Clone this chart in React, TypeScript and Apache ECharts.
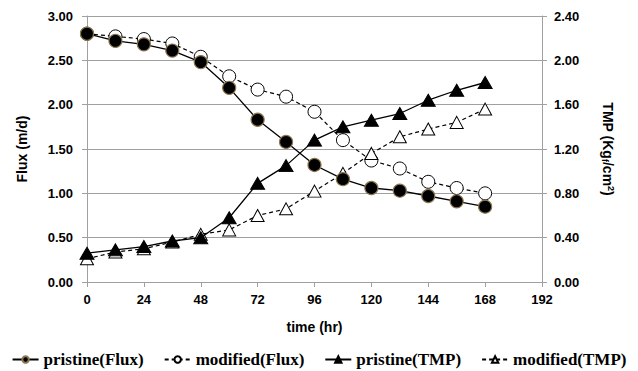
import React, { useEffect, useRef } from 'react';
import * as echarts from 'echarts';

const hours = [0, 12, 24, 36, 48, 60, 72, 84, 96, 108, 120, 132, 144, 156, 168];
const pristineFlux = [2.80, 2.72, 2.68, 2.61, 2.48, 2.19, 1.83, 1.58, 1.32, 1.16, 1.06, 1.03, 0.97, 0.91, 0.85];
const modifiedFlux = [2.80, 2.77, 2.74, 2.69, 2.54, 2.32, 2.17, 2.09, 1.92, 1.60, 1.37, 1.28, 1.13, 1.06, 1.00];
const pristineTMP = [0.26, 0.29, 0.32, 0.37, 0.40, 0.58, 0.89, 1.05, 1.28, 1.40, 1.46, 1.52, 1.64, 1.73, 1.80];
const modifiedTMP = [0.21, 0.27, 0.30, 0.36, 0.43, 0.47, 0.60, 0.66, 0.82, 0.98, 1.16, 1.31, 1.38, 1.44, 1.56];
const seriesNames = ['pristine(Flux)', 'modified(Flux)', 'pristine(TMP)', 'modified(TMP)'];

const pairs = (ys: number[]) => hours.map((h, i) => [h, ys[i]]);

const axisFont = { fontFamily: 'Liberation Sans, Arial, sans-serif', fontWeight: 'bold' as const, color: '#000' };
const gray = '#a0a0a0';

export default function App() {
  const ref = useRef<HTMLDivElement>(null);
  useEffect(() => {
    document.body.style.margin = '0';
    const chart = echarts.init(ref.current!, null, { renderer: 'svg' });
    chart.setOption({
      animation: false,
      backgroundColor: '#fff',
      grid: { left: 87, right: 96, top: 16, bottom: 89 },
      legend: {
        data: seriesNames,
        bottom: 3,
        left: 'center',
        width: 636,
        padding: 0,
        itemWidth: 26,
        itemHeight: 8,
        itemGap: 20,
        textStyle: { fontFamily: 'Liberation Serif, Times New Roman, serif', fontWeight: 'bold', fontSize: 17, color: '#000' },
      },
      xAxis: {
        type: 'value',
        min: 0,
        max: 192,
        interval: 24,
        name: 'time (hr)',
        nameLocation: 'middle',
        nameGap: 38,
        nameTextStyle: { ...axisFont, fontSize: 14 },
        axisLine: { lineStyle: { color: gray } },
        axisTick: { length: 5, lineStyle: { color: gray } },
        splitLine: { show: false },
        axisLabel: { ...axisFont, fontSize: 13, margin: 11 },
      },
      yAxis: [
        {
          type: 'value',
          min: 0,
          max: 3,
          interval: 0.5,
          name: 'Flux (m/d)',
          nameLocation: 'middle',
          nameRotate: 90,
          nameGap: 58,
          nameTextStyle: { ...axisFont, fontSize: 14 },
          axisLine: { show: true, lineStyle: { color: gray } },
          axisTick: { show: true, length: 5, lineStyle: { color: gray } },
          splitLine: { show: true, lineStyle: { color: gray, width: 1 } },
          axisLabel: { ...axisFont, fontSize: 13, margin: 14, formatter: (v: number) => v.toFixed(2) },
        },
        {
          type: 'value',
          min: 0,
          max: 2.4,
          interval: 0.4,
          position: 'right',
          name: 'TMP (Kg{sub|f}/cm{sup|2})',
          nameLocation: 'middle',
          nameRotate: -90,
          nameGap: 58,
          nameTextStyle: {
            ...axisFont,
            fontSize: 14,
            rich: {
              sub: { ...axisFont, fontSize: 9, verticalAlign: 'bottom', padding: [6, 0, 0, 0] },
              sup: { ...axisFont, fontSize: 9, verticalAlign: 'top', padding: [0, 0, 6, 0] },
            },
          },
          axisLine: { show: true, lineStyle: { color: gray } },
          axisTick: { show: true, length: 5, lineStyle: { color: gray } },
          splitLine: { show: false },
          axisLabel: { ...axisFont, fontSize: 13, margin: 12, formatter: (v: number) => v.toFixed(2) },
        },
      ],
      series: [
        {
          name: 'modified(Flux)',
          type: 'line',
          yAxisIndex: 0,
          data: pairs(modifiedFlux),
          symbol: 'circle',
          symbolSize: 13,
          lineStyle: { color: '#000', width: 1.2, type: [4, 3] },
          itemStyle: { color: '#fff', borderColor: '#000', borderWidth: 1 },
          z: 2,
        },
        {
          name: 'modified(TMP)',
          type: 'line',
          yAxisIndex: 1,
          data: pairs(modifiedTMP),
          symbol: 'triangle',
          symbolSize: [13, 12],
          lineStyle: { color: '#000', width: 1.2, type: [4, 3] },
          itemStyle: { color: '#fff', borderColor: '#000', borderWidth: 1 },
          z: 3,
        },
        {
          name: 'pristine(TMP)',
          type: 'line',
          yAxisIndex: 1,
          data: pairs(pristineTMP),
          symbol: 'triangle',
          symbolSize: [14, 12],
          lineStyle: { color: '#000', width: 1.3 },
          itemStyle: { color: '#000', borderColor: '#000', borderWidth: 1 },
          z: 4,
        },
        {
          name: 'pristine(Flux)',
          type: 'line',
          yAxisIndex: 0,
          data: pairs(pristineFlux),
          symbol: 'circle',
          symbolSize: 13,
          lineStyle: { color: '#000', width: 1.3 },
          itemStyle: { color: '#000', borderColor: '#8a7650', borderWidth: 1.2 },
          z: 5,
        },
      ],
    });
    return () => chart.dispose();
  }, []);
  return <div ref={ref} style={{ width: 638, height: 371 }} />;
}
